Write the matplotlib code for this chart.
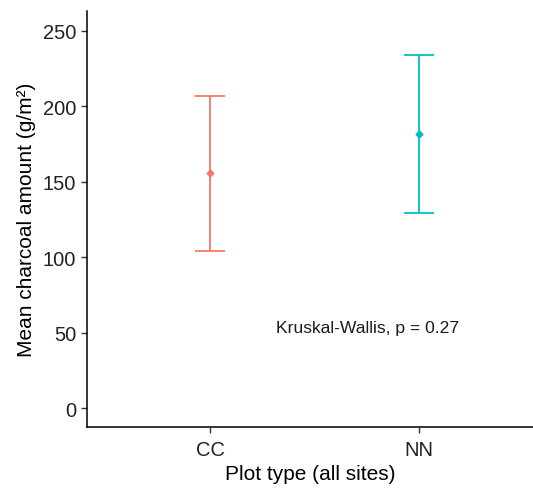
import matplotlib
matplotlib.use("Agg")
import matplotlib.pyplot as plt

plt.rcParams['font.family'] = ['Liberation Sans', 'DejaVu Sans']

# data
plot_types = ["CC", "NN"]
mean_charcoal = [155.8, 181.4]
lower_ci = [104.3, 129.1]
upper_ci = [206.6, 233.9]
colors = ["#F8766D", "#00BFC4"]
test_label = "Kruskal-Wallis, p = 0.27"

fig = plt.figure(figsize=(5.33, 4.89), dpi=100)
ax = fig.add_axes([86.7 / 533, 1 - 427.7 / 489, (533 - 86.7) / 533, (427.7 - 11.7) / 489])

xpos = list(range(1, len(plot_types) + 1))
for x, m, lo, hi, c in zip(xpos, mean_charcoal, lower_ci, upper_ci, colors):
    ax.errorbar(x, m, yerr=[[m - lo], [hi - m]], fmt='D', color=c, ms=3.5,
                elinewidth=1.3, capsize=10.5, capthick=1.3)

ax.text(1.317, 53.8, test_label, ha='left', va='center', fontsize=12.6, color='#1a1a1a')

ax.set_xlim(0.408, 2.546)
ax.set_ylim(-12.2, 263.2)
ax.set_xticks(xpos)
ax.set_xticklabels(plot_types)
ax.set_yticks([0, 50, 100, 150, 200, 250])

for s in ['top', 'right']:
    ax.spines[s].set_visible(False)
for s in ['left', 'bottom']:
    ax.spines[s].set_linewidth(1.1)
    ax.spines[s].set_color('black')
ax.tick_params(axis='both', direction='out', length=4.5, width=1.0, colors='#333333',
               labelsize=14.5, labelcolor='#222222', pad=3)
ax.tick_params(axis='x', pad=5)

ax.set_xlabel("Plot type (all sites)", fontsize=15, labelpad=4)
ax.set_ylabel("Mean charcoal amount (g/m²)", fontsize=15, labelpad=5)

fig.savefig("out.png", dpi=100)
